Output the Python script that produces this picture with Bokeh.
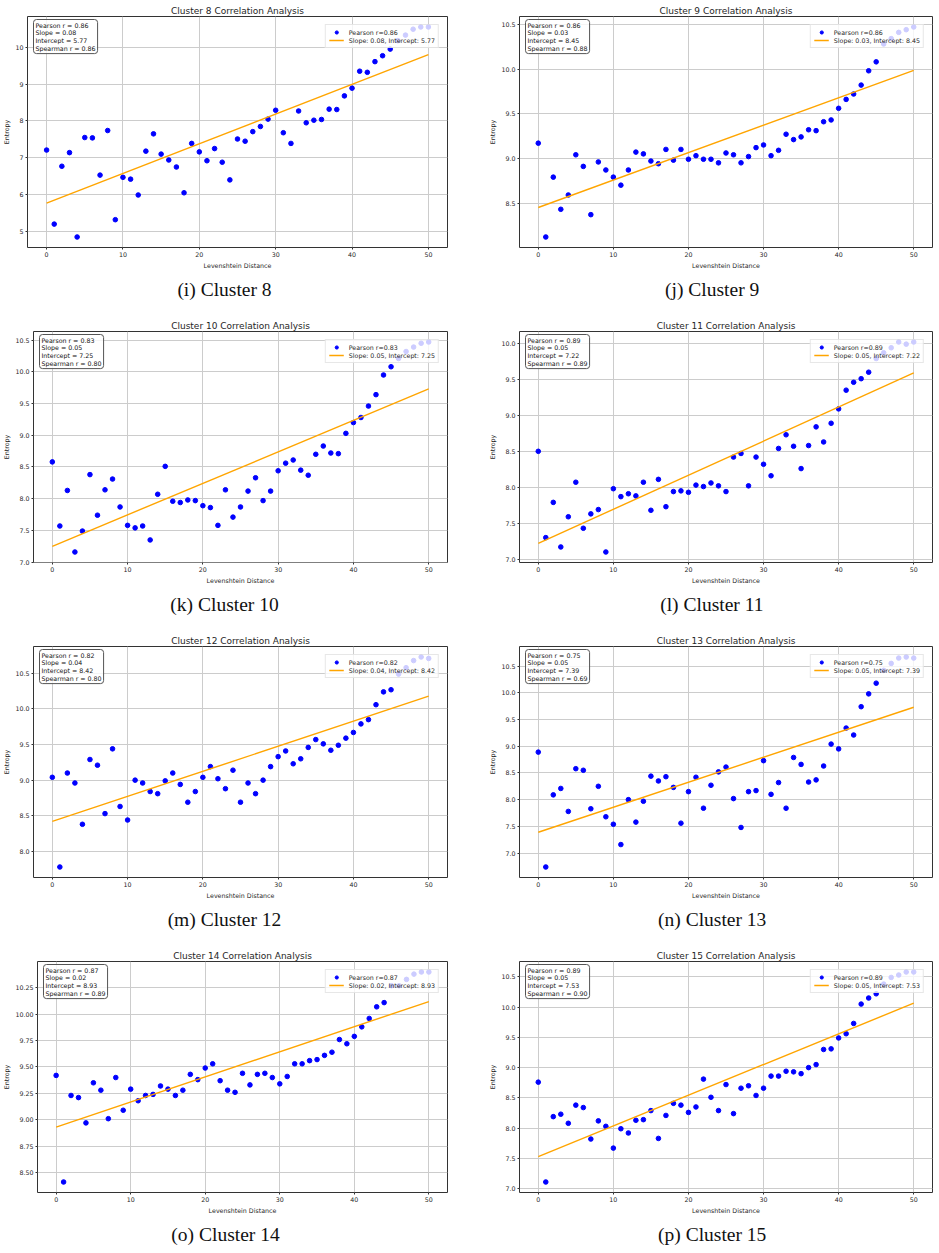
import numpy as np
from bokeh.embed import file_html
from bokeh.layouts import column, row
from bokeh.models import Label, NumeralTickFormatter, Range1d, SingleIntervalTicker, Title
from bokeh.plotting import figure
from bokeh.resources import INLINE

# Levenshtein distance (shared x values for every cluster)
distance = [0, 1, 2, 3, 4, 5, 6, 7, 8, 9, 10, 11, 12, 13, 14, 15, 16, 17, 18, 19,
            20, 21, 22, 23, 24, 25, 26, 27, 28, 29, 30, 31, 32, 33, 34, 35, 36, 37, 38, 39,
            40, 41, 42, 43, 44, 45, 46, 47, 48, 49, 50]

# Mean entropy per distance, one list per cluster
entropy_c8 = [7.21, 5.20, 6.77, 7.14, 4.85, 7.55, 7.54, 6.53, 7.74, 5.32,
              6.47, 6.42, 5.99, 7.18, 7.65, 7.10, 6.94, 6.75, 6.05, 7.39,
              7.16, 6.92, 7.25, 6.88, 6.40, 7.51, 7.45, 7.71, 7.85, 8.05,
              8.29, 7.68, 7.39, 8.27, 7.95, 8.02, 8.04, 8.32, 8.31, 8.68,
              8.89, 9.35, 9.32, 9.61, 9.77, 9.95, 10.18, 10.33, 10.49, 10.55, 10.55]
entropy_c9 = [9.17, 8.12, 8.79, 8.43, 8.59, 9.04, 8.91, 8.37, 8.96, 8.87,
              8.79, 8.70, 8.87, 9.07, 9.05, 8.97, 8.94, 9.10, 8.98, 9.10,
              8.99, 9.03, 8.99, 8.99, 8.95, 9.06, 9.04, 8.95, 9.02, 9.12,
              9.15, 9.03, 9.09, 9.27, 9.21, 9.24, 9.32, 9.31, 9.41, 9.43,
              9.56, 9.66, 9.72, 9.82, 9.98, 10.08, 10.28, 10.34, 10.41, 10.44, 10.47]
entropy_c10 = [8.58, 7.57, 8.13, 7.16, 7.49, 8.38, 7.74, 8.14, 8.31, 7.87,
               7.58, 7.54, 7.57, 7.35, 8.07, 8.51, 7.96, 7.94, 7.98, 7.97,
               7.89, 7.86, 7.58, 8.14, 7.71, 7.87, 8.12, 8.33, 7.97, 8.12,
               8.44, 8.56, 8.61, 8.45, 8.37, 8.70, 8.83, 8.72, 8.71, 9.03,
               9.20, 9.28, 9.46, 9.64, 9.95, 10.08, 10.21, 10.32, 10.39, 10.45, 10.47]
entropy_c11 = [8.50, 7.30, 7.79, 7.17, 7.59, 8.07, 7.43, 7.63, 7.69, 7.10,
               7.98, 7.87, 7.91, 7.88, 8.07, 7.68, 8.11, 7.73, 7.94, 7.95,
               7.93, 8.03, 8.01, 8.06, 8.02, 7.94, 8.42, 8.47, 8.02, 8.42,
               8.32, 8.16, 8.54, 8.73, 8.57, 8.26, 8.58, 8.84, 8.63, 8.89,
               9.09, 9.35, 9.46, 9.51, 9.60, 9.79, 9.87, 9.94, 10.02, 9.99, 10.02]
entropy_c12 = [9.04, 7.78, 9.10, 8.96, 8.38, 9.29, 9.21, 8.53, 9.44, 8.63,
               8.44, 9.00, 8.96, 8.84, 8.81, 8.99, 9.10, 8.94, 8.69, 8.84,
               9.04, 9.19, 9.02, 8.88, 9.14, 8.69, 8.96, 8.81, 9.00, 9.19,
               9.33, 9.41, 9.23, 9.30, 9.46, 9.57, 9.51, 9.42, 9.49, 9.59,
               9.67, 9.79, 9.85, 10.06, 10.24, 10.27, 10.49, 10.58, 10.68, 10.73, 10.71]
entropy_c13 = [8.89, 6.74, 8.09, 8.21, 7.78, 8.58, 8.55, 7.83, 8.25, 7.68,
               7.54, 7.16, 8.00, 7.58, 7.97, 8.44, 8.35, 8.43, 8.23, 7.56,
               8.15, 8.42, 7.84, 8.27, 8.52, 8.61, 8.02, 7.48, 8.15, 8.17,
               8.73, 8.10, 8.32, 7.84, 8.79, 8.66, 8.33, 8.37, 8.63, 9.04,
               8.95, 9.34, 9.21, 9.74, 9.98, 10.18, 10.42, 10.55, 10.65, 10.67, 10.65]
entropy_c14 = [9.42, 8.41, 9.23, 9.21, 8.97, 9.35, 9.28, 9.01, 9.40, 9.09,
               9.29, 9.18, 9.23, 9.24, 9.32, 9.29, 9.23, 9.28, 9.43, 9.38,
               9.49, 9.53, 9.37, 9.28, 9.26, 9.44, 9.33, 9.43, 9.44, 9.40,
               9.34, 9.41, 9.53, 9.53, 9.56, 9.57, 9.61, 9.64, 9.76, 9.72,
               9.79, 9.88, 9.96, 10.07, 10.11, 10.27, 10.27, 10.33, 10.38, 10.40, 10.40]
entropy_c15 = [8.76, 7.11, 8.19, 8.23, 8.08, 8.38, 8.34, 7.82, 8.12, 8.03,
               7.67, 7.99, 7.92, 8.13, 8.14, 8.29, 7.83, 8.21, 8.41, 8.38,
               8.26, 8.35, 8.81, 8.51, 8.29, 8.72, 8.24, 8.66, 8.70, 8.54,
               8.66, 8.86, 8.86, 8.94, 8.93, 8.90, 9.00, 9.05, 9.30, 9.31,
               9.49, 9.56, 9.73, 10.05, 10.15, 10.22, 10.38, 10.49, 10.53, 10.58, 10.58]

clusters = ["8", "9", "10", "11", "12", "13", "14", "15"]
caption_letters = ["i", "j", "k", "l", "m", "n", "o", "p"]
pearson_r = [0.86, 0.86, 0.83, 0.89, 0.82, 0.75, 0.87, 0.89]
spearman_r = [0.86, 0.88, 0.80, 0.89, 0.80, 0.69, 0.89, 0.90]
slope = [0.0806, 0.0307, 0.0496, 0.0474, 0.0352, 0.0468, 0.0238, 0.0507]
intercept = [5.77, 8.45, 7.25, 7.22, 8.42, 7.39, 8.93, 7.53]
y_tick_step = [1.0, 0.5, 0.5, 0.5, 0.5, 0.5, 0.25, 0.5]
y_tick_format = ["0", "0.0", "0.0", "0.0", "0.0", "0.0", "0.00", "0.0"]

entropy_sets = [entropy_c8, entropy_c9, entropy_c10, entropy_c11,
                entropy_c12, entropy_c13, entropy_c14, entropy_c15]

FONT = "DejaVu Sans"
CAPTION_FONT = "Liberation Serif"
CAPTION_SIZE = 19.5
SMALL = "6.3px"
TEXT_COLOR = "#262626"

# Times-style advance widths (per 1000 em) used to centre the captions
SERIF_WIDTHS = {"(": 333, ")": 333, " ": 250, "C": 667, "l": 278, "u": 500,
                "s": 389, "t": 278, "e": 444, "r": 333, "i": 278, "j": 278,
                "k": 500, "m": 778, "n": 500, "o": 500, "p": 500}

# left border per panel (wider tick labels push the frame right)
left_border = [27, 49, 33, 49, 33, 49, 36, 49]
row_heights = [315, 315, 315, 308]


def text_width(s, size):
    return sum(SERIF_WIDTHS.get(ch, 500) for ch in s) * size / 1000.0


def make_panel(i, height):
    left_col = i % 2 == 0
    width = 470 if left_col else 469
    b_left = left_border[i]
    b_right = 23 if left_col else 7
    b_top = 16
    frame_h = 231
    b_bottom = height - b_top - frame_h
    frame_w = width - b_left - b_right

    xs = np.array(distance, dtype=float)
    ys = np.array(entropy_sets[i], dtype=float)
    xpad = 0.05 * (xs.max() - xs.min())
    ypad = 0.05 * (ys.max() - ys.min())
    x0, x1 = xs.min() - xpad, xs.max() + xpad
    y0, y1 = ys.min() - ypad, ys.max() + ypad

    p = figure(width=width, height=height,
               x_range=Range1d(x0, x1), y_range=Range1d(y0, y1),
               output_backend="svg", toolbar_location=None,
               min_border_left=b_left, min_border_right=b_right,
               min_border_top=b_top, min_border_bottom=b_bottom,
               title=f"Cluster {clusters[i]} Correlation Analysis",
               x_axis_label="Levenshtein Distance", y_axis_label="Entropy")
    p.background_fill_color = "white"
    p.border_fill_color = "white"
    p.outline_line_color = "#333333"
    p.outline_line_width = 1

    p.title.align = "center"
    p.title.text_font = FONT
    p.title.text_font_size = "9px"
    p.title.text_font_style = "normal"
    p.title.text_color = TEXT_COLOR
    p.title.standoff = 2

    xt = SingleIntervalTicker(interval=10)
    yt = SingleIntervalTicker(interval=y_tick_step[i])
    p.xaxis.ticker = xt
    p.yaxis.ticker = yt
    p.xgrid.ticker = xt
    p.ygrid.ticker = yt
    p.xaxis.formatter = NumeralTickFormatter(format="0")
    p.yaxis.formatter = NumeralTickFormatter(format=y_tick_format[i])

    for ax in (p.xaxis[0], p.yaxis[0]):
        ax.axis_line_color = None
        ax.major_tick_in = 0
        ax.major_tick_out = 2
        ax.minor_tick_in = 0
        ax.minor_tick_out = 0
        ax.major_tick_line_color = "#333333"
        ax.major_label_text_font = FONT
        ax.major_label_text_font_size = SMALL
        ax.major_label_text_color = TEXT_COLOR
        ax.major_label_standoff = 2
        ax.axis_label_text_font = FONT
        ax.axis_label_text_font_size = SMALL
        ax.axis_label_text_font_style = "normal"
        ax.axis_label_text_color = TEXT_COLOR
        ax.axis_label_standoff = 2

    for g in (p.xgrid[0], p.ygrid[0]):
        g.grid_line_color = "#cccccc"
        g.grid_line_width = 1

    p.scatter(distance, entropy_sets[i], size=4.6, color="#0000ff",
              legend_label=f"Pearson r={pearson_r[i]:.2f}")
    line_x = np.array([xs.min(), xs.max()])
    line_y = intercept[i] + slope[i] * line_x
    p.line(line_x, line_y, color="#ffa500", line_width=1.4,
           legend_label=f"Slope: {slope[i]:.2f}, Intercept: {intercept[i]:.2f}")

    lg = p.legend[0]
    lg.location = "top_right"
    lg.margin = 8
    lg.padding = 3
    lg.spacing = 0
    lg.label_height = 8
    lg.glyph_height = 8
    lg.glyph_width = 15
    lg.label_standoff = 5
    lg.label_text_font = FONT
    lg.label_text_font_size = SMALL
    lg.label_text_color = TEXT_COLOR
    lg.border_line_color = "#d0d0d0"
    lg.background_fill_color = "white"
    lg.background_fill_alpha = 0.8

    stats = (f"Pearson r = {pearson_r[i]:.2f}\n"
             f"Slope = {slope[i]:.2f}\n"
             f"Intercept = {intercept[i]:.2f}\n"
             f"Spearman r = {spearman_r[i]:.2f}")
    p.add_layout(Label(x=x0 + 6 / frame_w * (x1 - x0), y=y1 - 3 / frame_h * (y1 - y0),
                       anchor="top_left", text=stats,
                       text_font=FONT, text_font_size=SMALL, text_color="#111111",
                       text_line_height=1.1,
                       background_fill_color="white", background_fill_alpha=0.8,
                       border_line_color="#555555", border_line_width=1,
                       border_radius=3, padding=2))

    # sub-figure caption, centred under the whole panel
    caption = f"({caption_letters[i]}) Cluster {clusters[i]}"
    cap_center = 224 if left_col else 241.7
    cap_left = cap_center - text_width(caption, CAPTION_SIZE) / 2
    p.add_layout(Title(text=caption, align="left", offset=cap_left - b_left,
                       text_font=CAPTION_FONT, text_font_size=f"{CAPTION_SIZE}px",
                       text_font_style="normal", text_color="#111111",
                       standoff=10), "below")
    return p


rows = []
for r in range(4):
    rows.append(row(make_panel(2 * r, row_heights[r]), make_panel(2 * r + 1, row_heights[r])))
layout = column(*rows)

open("out.html", "w").write(file_html(layout, INLINE))
